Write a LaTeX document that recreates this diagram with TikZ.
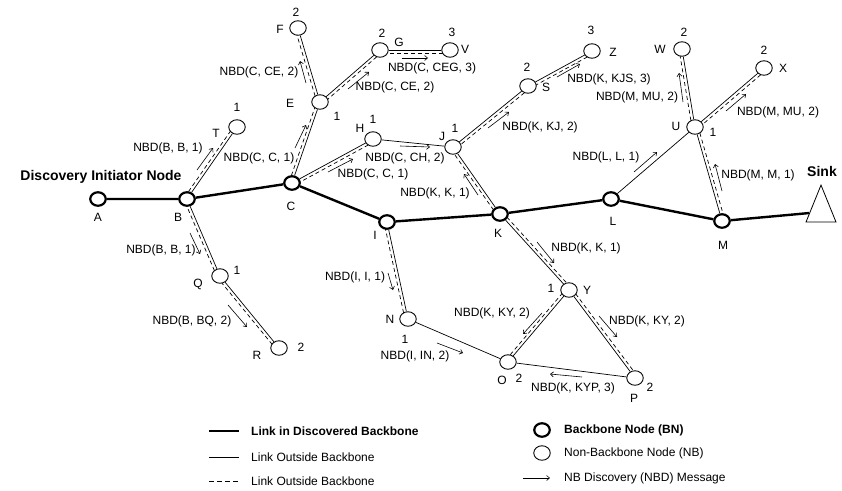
\documentclass[tikz,border=0pt]{standalone}
\usepackage{fontspec}
\setmainfont{Liberation Sans}
\usetikzlibrary{arrows.meta}
\usetikzlibrary{calc}
\usetikzlibrary{shapes.geometric}
\usetikzlibrary{backgrounds}

% link with a dashed twin on the left of #1 -> #2
\newcommand{\dlink}[2]{%
  \draw[link] (#1) -- (#2);
  \draw[link, dlinedash] ($(#1)!\doff!90:(#2)$) -- ($(#2)!\doff!-90:(#1)$);
}

\begin{document}
\begin{tikzpicture}[x=1pt, y=-1pt,
  bn/.style={ellipse, draw, line width=2.2pt, fill=white, minimum width=15.5pt, minimum height=13.5pt, inner sep=0pt},
  nb/.style={ellipse, draw, line width=0.9pt, fill=white, minimum width=16.5pt, minimum height=14.5pt, inner sep=0pt},
  sink/.style={isosceles triangle, draw, line width=0.8pt, fill=white, shape border rotate=90,
    isosceles triangle apex angle=44, isosceles triangle stretches, minimum width=30pt, minimum height=37pt, inner sep=0pt},
  bbone/.style={line width=2.4pt},
  link/.style={line width=0.7pt},
  dlinedash/.style={dash pattern=on 4pt off 3pt},
  msg/.style={line width=0.6pt, -{Straight Barb[length=3pt,width=5pt]}},
  lbl/.style={font=\fontsize{12pt}{14pt}\selectfont, inner sep=0pt},
  title/.style={font=\bfseries\fontsize{14pt}{16pt}\selectfont, inner sep=0pt},
  leg/.style={font=\fontsize{12pt}{14pt}\selectfont, inner sep=0pt, anchor=west},
  legb/.style={leg, font=\bfseries\fontsize{12pt}{14pt}\selectfont}]
	\def\doff{3pt}   % gap between solid and dashed twin

\useasboundingbox (0,0) rectangle (842,490);

% backbone nodes
\node[bn] (A) at (98,199) {};
\node[bn] (B) at (187,199) {};
\node[bn] (C) at (292,183) {};
\node[bn] (I) at (387,222) {};
\node[bn] (K) at (500,214) {};
\node[bn] (L) at (611,199) {};
\node[bn] (M) at (722,221) {};
\node[sink, anchor=apex] (sink) at (821,184) {};

% non-backbone nodes
\node[nb] (T) at (237,127) {};
\node[nb] (Q) at (220,276) {};
\node[nb] (R) at (279,348) {};
\node[nb] (E) at (320,102) {};
\node[nb] (F) at (298,28) {};
\node[nb] (G) at (380,50) {};
\node[nb] (V) at (450,50) {};
\node[nb] (H) at (373,139) {};
\node[nb] (J) at (453,147) {};
\node[nb] (S) at (528,86) {};
\node[nb] (Z) at (592,51) {};
\node[nb] (U) at (695,127) {};
\node[nb] (W) at (682,49) {};
\node[nb] (X) at (764,68) {};
\node[nb] (N) at (408,319) {};
\node[nb] (O) at (508,362) {};
\node[nb] (Y) at (569,290) {};
\node[nb] (P) at (635,378) {};

\begin{scope}[on background layer]
% backbone
\draw[bbone] (A) -- (B) -- (C) -- (I) -- (K) -- (L) -- (M) -- (sink);

% plain links
\draw[link] (H) -- (J);
\draw[link] (N) -- (O);
\draw[link] (O) -- (P);
\draw[link] (L) -- (U);

% links the NBD went along
\dlink{B}{T}
\dlink{Q}{B}
\dlink{R}{Q}
\dlink{C}{E}
\dlink{E}{F}
\dlink{G}{E}
\dlink{V}{G}
\dlink{H}{C}
\dlink{S}{J}
\dlink{Z}{S}
\dlink{K}{J}
\dlink{K}{Y}
\dlink{O}{Y}
\dlink{Y}{P}
\dlink{N}{I}
\dlink{U}{W}
\dlink{X}{U}
\dlink{U}{M}
\end{scope}

% node letters
\node[lbl] (tA) at (98,217) {A};
\node[lbl] (tB) at (178,217) {B};
\node[lbl] (tC) at (291,206) {C};
\node[lbl] (tI) at (375,235) {I};
\node[lbl] (tK) at (498,233) {K};
\node[lbl] (tL) at (613,221) {L};
\node[lbl] (tM) at (723,245) {M};
\node[lbl] (tT) at (216,133) {T};
\node[lbl] (tQ) at (198,284) {Q};
\node[lbl] (tR) at (257,355) {R};
\node[lbl] (tE) at (290,103) {E};
\node[lbl] (tF) at (280,29) {F};
\node[lbl] (tG) at (399,42) {G};
\node[lbl] (tV) at (465,49) {V};
\node[lbl] (tH) at (360,128) {H};
\node[lbl] (tJ) at (442,136) {J};
\node[lbl] (tS) at (546,87) {S};
\node[lbl] (tZ) at (613,52) {Z};
\node[lbl] (tU) at (676,126) {U};
\node[lbl] (tW) at (660,49) {W};
\node[lbl] (tX) at (783,68) {X};
\node[lbl] (tN) at (390,319) {N};
\node[lbl] (tO) at (502,380) {O};
\node[lbl] (tY) at (587,290) {Y};
\node[lbl] (tP) at (634,398) {P};

% hop counts
\node[lbl] (hT) at (237,107) {1};
\node[lbl] (hQ) at (237,270) {1};
\node[lbl] (hR) at (301,347) {2};
\node[lbl] (hE) at (337,116) {1};
\node[lbl] (hF) at (296,12) {2};
\node[lbl] (hG) at (382,33) {2};
\node[lbl] (hV) at (452,32) {3};
\node[lbl] (hH) at (373,119) {1};
\node[lbl] (hJ) at (455,128) {1};
\node[lbl] (hS) at (527,67) {2};
\node[lbl] (hZ) at (591,30) {3};
\node[lbl] (hU) at (713,132) {1};
\node[lbl] (hW) at (684,32) {2};
\node[lbl] (hX) at (764,50) {2};
\node[lbl] (hN) at (405,339) {1};
\node[lbl] (hO) at (519,378) {2};
\node[lbl] (hY) at (551,288) {1};
\node[lbl] (hP) at (650,387) {2};

\node[title] (init) at (101,177) {Discovery Initiator Node};
\node[title] (sinktxt) at (822,171) {Sink};

% NBD messages
\draw[msg] (197,170) -- (213,148) node[lbl] (m1) at (168,148) {NBD(B, B, 1)};
\draw[msg] (190,233) -- (200,254) node[lbl] (m2) at (161,250) {NBD(B, B, 1)};
\draw[msg] (228,305) -- (247,327) node[lbl] (m3) at (192,321) {NBD(B, BQ, 2)};
\draw[msg] (295,148) -- (306,125) node[lbl] (m4) at (259,158) {NBD(C, C, 1)};
\draw[msg] (306,83) -- (300,61) node[lbl] (m5) at (259,72) {NBD(C, CE, 2)};
\draw[msg] (348,89) -- (369,72) node[lbl] (m6) at (395,87) {NBD(C, CE, 2)};
\draw[msg] (402,58) -- (428,58) node[lbl] (m7) at (432,68) {NBD(C, CEG, 3)};
\draw[msg] (328,172) -- (353,159) node[lbl] (m8) at (373,174) {NBD(C, C, 1)};
\draw[msg] (400,146) -- (430,147) node[lbl] (m9) at (405,158) {NBD(C, CH, 2)};
\draw[msg] (488,128) -- (509,112) node[lbl] (m10) at (540,127) {NBD(K, KJ, 2)};
\draw[msg] (478,195) -- (464,174) node[lbl] (m11) at (435,193) {NBD(K, K, 1)};
\draw[msg] (557,77) -- (580,64) node[lbl] (m12) at (609,79) {NBD(K, KJS, 3)};
\draw[msg] (683,102) -- (679,73) node[lbl] (m13) at (637,97) {NBD(M, MU, 2)};
\draw[msg] (726,111) -- (746,94) node[lbl] (m14) at (778,112) {NBD(M, MU, 2)};
\draw[msg] (634,172) -- (657,152) node[lbl] (m15) at (606,157) {NBD(L, L, 1)};
\draw[msg] (722,191) -- (715,164) node[lbl] (m16) at (758,175) {NBD(M, M, 1)};
\draw[msg] (388,273) -- (393,290) node[lbl] (m17) at (355,277) {NBD(I, I, 1)};
\draw[msg] (537,242) -- (554,263) node[lbl] (m18) at (586,248) {NBD(K, K, 1)};
\draw[msg] (542,313) -- (523,334) node[lbl] (m19) at (492,313) {NBD(K, KY, 2)};
\draw[msg] (599,316) -- (617,337) node[lbl] (m20) at (647,321) {NBD(K, KY, 2)};
\draw[msg] (437,343) -- (463,353) node[lbl] (m21) at (415,356) {NBD(I, IN, 2)};
\draw[msg] (582,377) -- (550,374) node[lbl] (m22) at (573,388) {NBD(K, KYP, 3)};

% legend
\draw[bbone] (209,431) -- (239,431);
\node[legb] (lg1) at (251,431) {Link in Discovered Backbone};
\draw[link] (209,457) -- (239,457);
\node[leg] (lg2) at (251,457) {Link Outside Backbone};
\draw[link, dash pattern=on 5pt off 3pt] (209,481) -- (240,481);
\node[leg] (lg3) at (251,481) {Link Outside Backbone};

\node[bn] (lgbn) at (542,430) {};
\node[legb] (lg4) at (564,430) {Backbone Node (BN)};
\node[nb] (lgnb) at (542,453) {};
\node[leg] (lg5) at (564,453) {Non-Backbone Node (NB)};
\draw[msg] (523,478) -- (550,478);
\node[leg] (lg6) at (564,478) {NB Discovery (NBD) Message};

\end{tikzpicture}
\end{document}
